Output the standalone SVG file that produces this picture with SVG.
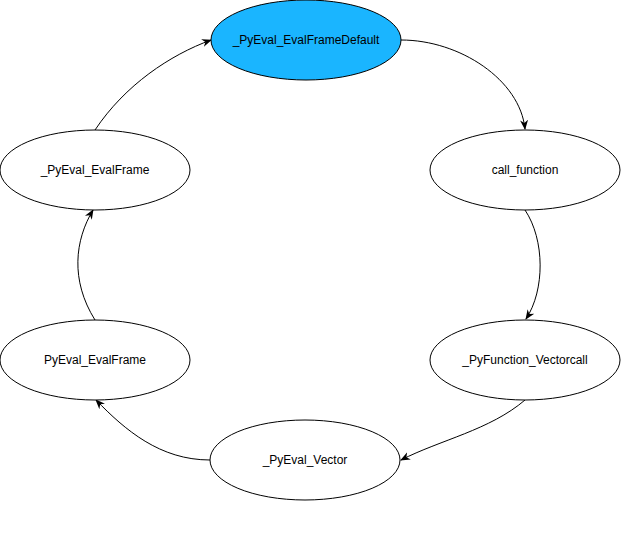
<svg xmlns="http://www.w3.org/2000/svg" width="621" height="551" viewBox="0 0 621 551">
<style>
.node ellipse{stroke:#000;stroke-width:1;fill:#fff}
.node text{font-family:"Liberation Sans",Arial,sans-serif;font-size:12px;fill:#000;text-anchor:middle;dominant-baseline:central}
.edge{fill:none;stroke:#000;stroke-width:1;marker-end:url(#arr)}
</style>
<defs>
<marker id="arr" viewBox="0 0 10 10" refX="9" refY="5" markerWidth="10" markerHeight="10" markerUnits="userSpaceOnUse" orient="auto">
<path d="M0,1 L10,5 L0,9 L3,5 Z" fill="#000"/>
</marker>
</defs>
<rect width="621" height="551" fill="#fff"/>
<g id="connectors">
<path class="edge" d="M401,40 C460,40 520,80 525,129"/>
<path class="edge" d="M525,210 C545,240 545,290 526,319"/>
<path class="edge" d="M525,400 C490,430 440,440 401,460"/>
<path class="edge" d="M210,460 C160,460 125,430 96,400"/>
<path class="edge" d="M95,320 C70,280 75,240 93,210"/>
<path class="edge" d="M95,130 C125,85 170,55 211,40"/>
</g>
<g id="n1" class="node"><ellipse cx="306" cy="40" rx="95" ry="40" style="fill:#1AB5FF"/><text x="306" y="40">_PyEval_EvalFrameDefault</text></g>
<g id="n2" class="node"><ellipse cx="525" cy="170" rx="95" ry="40"/><text x="525" y="170">call_function</text></g>
<g id="n3" class="node"><ellipse cx="525" cy="360" rx="95" ry="40"/><text x="525" y="360">_PyFunction_Vectorcall</text></g>
<g id="n4" class="node"><ellipse cx="305" cy="460" rx="95" ry="40"/><text x="305" y="460">_PyEval_Vector</text></g>
<g id="n5" class="node"><ellipse cx="95" cy="360" rx="95" ry="40"/><text x="95" y="360">PyEval_EvalFrame</text></g>
<g id="n6" class="node"><ellipse cx="95" cy="170" rx="95" ry="40"/><text x="95" y="170">_PyEval_EvalFrame</text></g>
</svg>
